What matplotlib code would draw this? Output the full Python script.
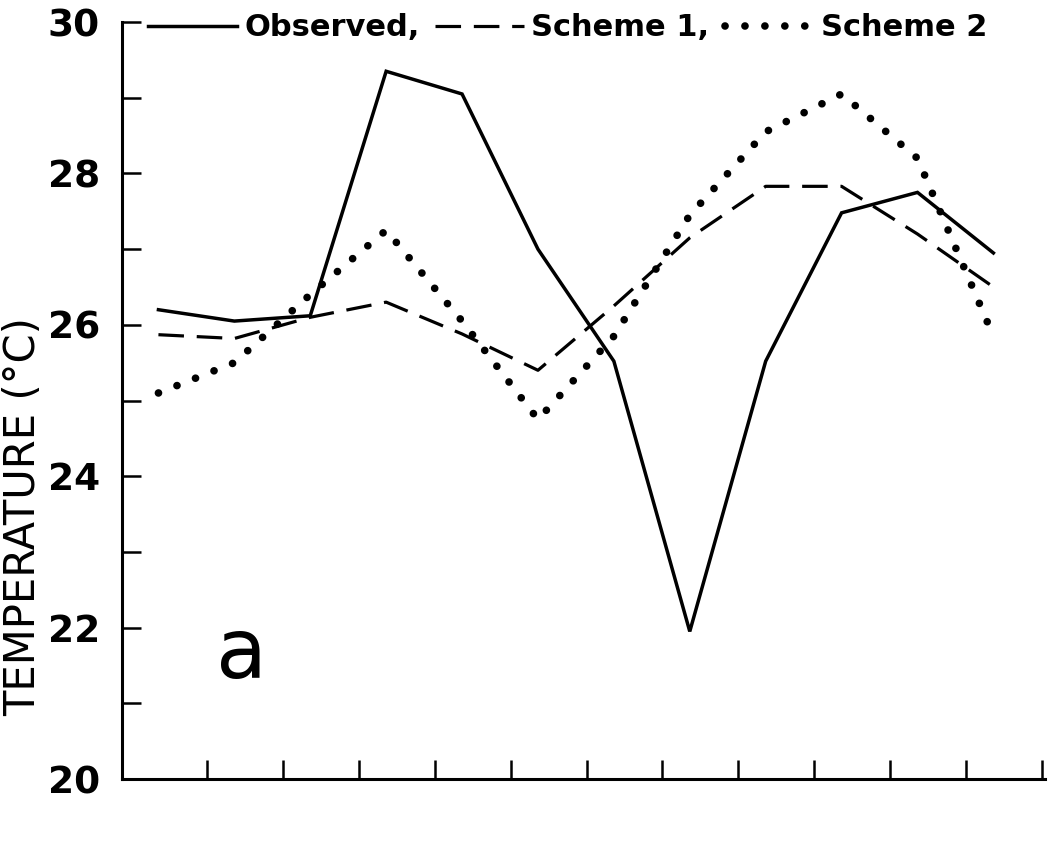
import numpy as np
import matplotlib.pyplot as plt

# monthly values
months = np.arange(1, 13)
observed = [26.2, 26.05, 26.12, 29.35, 29.05, 27.0, 25.52, 21.95, 25.52, 27.48, 27.75, 26.95]
scheme1 = [25.87, 25.82, 26.1, 26.3, 25.88, 25.4, 26.25, 27.15, 27.83, 27.83, 27.2, 26.5]
scheme2 = [25.1, 25.5, 26.4, 27.25, 26.05, 24.75, 25.85, 27.45, 28.55, 29.05, 28.2, 25.85]

yticks = [20, 22, 24, 26, 28, 30]
yminor = [21, 23, 25, 27, 29]
xticks = months + 0.64


def main():
    fig = plt.figure(figsize=(10.49, 8.49), dpi=100)
    ax = fig.add_axes([0.1163, 0.0824, 0.8799, 0.8916])

    ax.plot(months, observed, color='black', lw=2.5, solid_joinstyle='miter',
            label='Observed,')
    ax.plot(months, scheme1, color='black', lw=2.3, linestyle=(0, (8, 4)),
            label='Scheme 1,')
    ax.plot(months, scheme2, color='black', lw=5.5, linestyle=(0, (0.01, 2.6)),
            dash_capstyle='round', label='Scheme 2')

    ax.set_xlim(0.52, 12.68)
    ax.set_ylim(20, 30)
    ax.set_xticks(xticks)
    ax.set_xticklabels([])
    ax.set_yticks(yticks)
    ax.set_yticks(yminor, minor=True)

    for side in ['top', 'right']:
        ax.spines[side].set_visible(False)
    for side in ['left', 'bottom']:
        ax.spines[side].set_linewidth(2.2)

    ax.tick_params(axis='both', which='both', direction='in', length=14, width=1.8)
    ax.tick_params(axis='y', which='major', labelsize=27, pad=16)
    ax.tick_params(axis='x', labelbottom=False)
    for lab in ax.get_yticklabels():
        lab.set_fontweight('bold')

    # y label, panel letter
    fig.text(0.022, 0.391, 'TEMPERATURE (°C)', rotation=90, fontsize=30,
             ha='center', va='center')
    fig.text(0.2307, 0.2014, 'a', fontsize=60, ha='center', va='baseline')

    # legend along the top
    fig.legend(loc='center left', bbox_to_anchor=(148 / 1049, 1 - 28 / 849),
               ncol=3, frameon=False, handlelength=2.9, handletextpad=0.25,
               columnspacing=0.5, borderaxespad=0, borderpad=0,
               prop={'size': 22, 'weight': 'bold'})

    fig.savefig('out.png', dpi=100, facecolor='white')


if __name__ == "__main__":
    main()
